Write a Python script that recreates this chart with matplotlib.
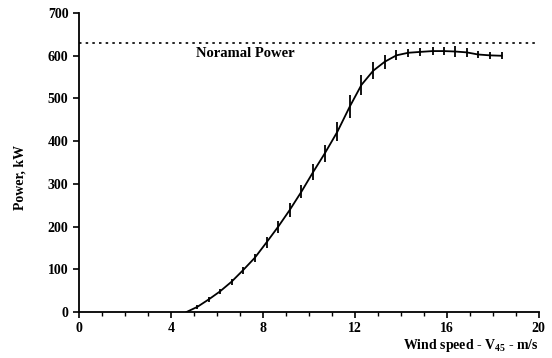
import matplotlib
matplotlib.use('Agg')
import matplotlib.pyplot as plt
import numpy as np

wind_speed = [4.68, 5.15, 5.66, 6.13, 6.64, 7.14, 7.65, 8.16, 8.67, 9.17,
              9.68, 10.19, 10.70, 11.24, 11.78, 12.29, 12.80, 13.30, 13.81,
              14.32, 14.83, 15.38, 15.87, 16.35, 16.86, 17.36, 17.87, 18.38]
power_kw = [0, 12, 30, 48, 71, 98, 127, 163, 200, 239,
            282, 328, 372, 422, 481, 532, 565, 586, 601,
            607, 609, 611, 611, 610, 608, 603, 601, 600]
power_err = [0, 4, 6, 6, 7, 8, 9, 12, 14, 16,
             16, 18, 20, 22, 26, 24, 20, 16, 12,
             10, 10, 10, 10, 12, 10, 8, 8, 8]
nominal_power = 630
x_ticks = [0, 4, 8, 12, 16, 20]
y_ticks = [0, 100, 200, 300, 400, 500, 600, 700]

plt.rcParams['font.family'] = ['Liberation Serif', 'DejaVu Serif']
plt.rcParams['font.weight'] = 'bold'
plt.rcParams['mathtext.default'] = 'regular'

fig = plt.figure(figsize=(5.52, 3.58), dpi=100)
ax = fig.add_axes([0.143, 0.1285, 0.833, 0.835])

ax.errorbar(wind_speed, power_kw, yerr=power_err, color='black', lw=1.3,
            elinewidth=1.3, capsize=0)
ax.axhline(nominal_power, xmin=0, xmax=0.995, color='black', lw=1.2,
           ls=(0, (1.5, 2.5)))
ax.text(5.1, 606, "Noramal Power", fontsize=10.5, fontweight='bold',
        va='center')

ax.set_xlim(0, 20)
ax.set_ylim(0, 700)
ax.set_xticks(x_ticks)
ax.set_xticks(range(0, 21), minor=True)
ax.set_yticks(y_ticks)
ax.tick_params(axis='both', labelsize=10, width=1.2, length=4, direction='out')
ax.tick_params(axis='x', which='minor', length=3, width=1)

for side in ['top', 'right']:
    ax.spines[side].set_visible(False)
for side in ['left', 'bottom']:
    ax.spines[side].set_linewidth(1.3)

ax.set_ylabel("Power, kW", fontsize=10, fontweight='bold')
ax.yaxis.set_label_coords(-0.115, 0.45)
ax.set_xlabel("Wind speed - V$_{45}$ - m/s", fontsize=10, fontweight='bold',
              ha='right')
ax.xaxis.set_label_coords(1.0, -0.085)

plt.savefig("out.png", dpi=100)
